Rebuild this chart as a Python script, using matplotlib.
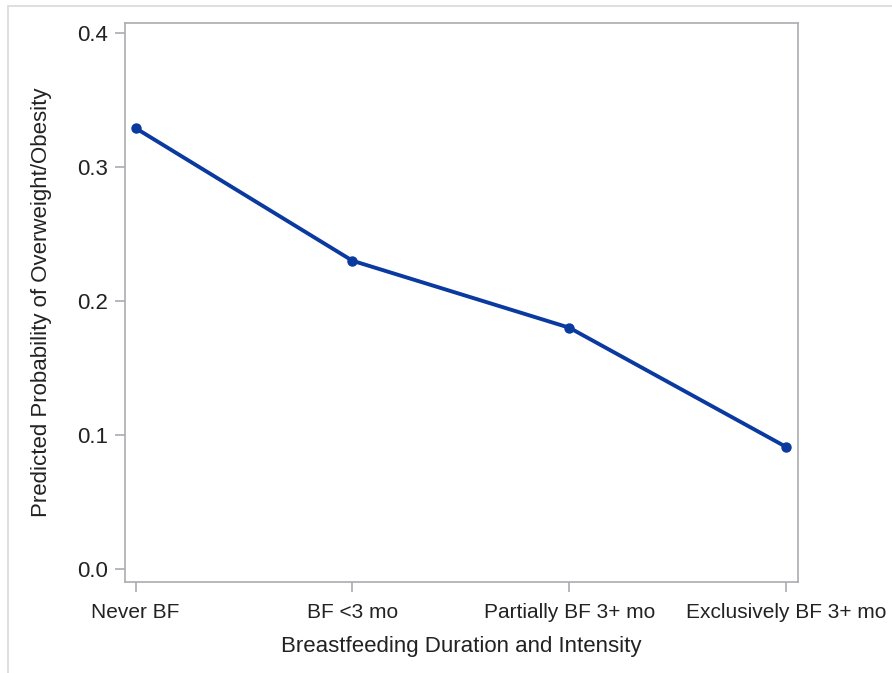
import matplotlib.pyplot as plt
from matplotlib.patches import Rectangle

categories = ["Never BF", "BF <3 mo", "Partially BF 3+ mo", "Exclusively BF 3+ mo"]
probabilities = [0.329, 0.230, 0.180, 0.091]
y_ticks = [0.0, 0.1, 0.2, 0.3, 0.4]

plt.rcParams['font.family'] = ['Liberation Sans', 'DejaVu Sans']

fig = plt.figure(figsize=(8.92, 6.73), dpi=100)
ax = fig.add_axes([125 / 892, 1 - 581.5 / 673, (798 - 125) / 892, (581.5 - 23) / 673])

# faint outer frame like the exported graph border
fig.patches.append(Rectangle((8 / 892, -0.1), 1.2, (1 - 6 / 673) + 0.1,
                             transform=fig.transFigure, fill=False,
                             edgecolor='#d9d9d9', linewidth=1.2))

x = list(range(len(categories)))
ax.plot(x, probabilities, color='#0a3aa0', linewidth=2.8, marker='o', markersize=6.5)

ax.set_xlim(-0.049, 3.055)
ax.set_ylim(-0.0095, 0.4075)
ax.set_xticks(x)
ax.set_xticklabels(categories, fontsize=15, color='#222222')
ax.set_yticks(y_ticks)
ax.set_yticklabels([f"{v:.1f}" for v in y_ticks], fontsize=16, color='#222222')

for side in ax.spines.values():
    side.set_color('#a9acb0')
    side.set_linewidth(1.2)
ax.tick_params(axis='both', color='#a9acb0', length=7, width=1.2, pad=5)
ax.tick_params(axis='x', pad=8.5)

ax.set_xlabel("Breastfeeding Duration and Intensity", fontsize=16, color='#222222', labelpad=10)
ax.set_ylabel("Predicted Probability of Overweight/Obesity", fontsize=16, color='#222222', labelpad=18)

fig.savefig("out.png", dpi=100)
